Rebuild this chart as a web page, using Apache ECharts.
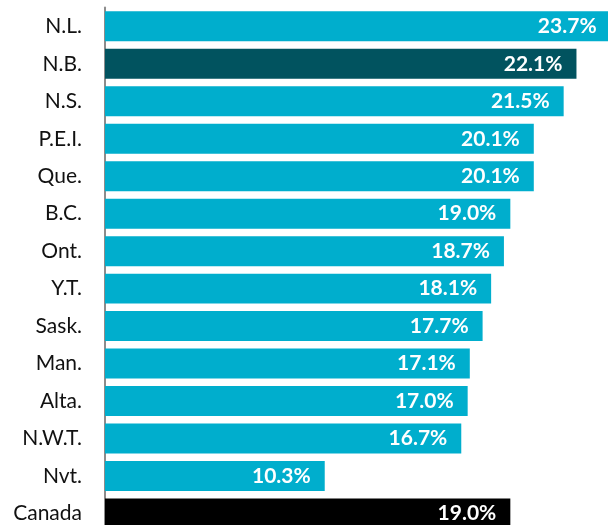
<!DOCTYPE html>
<html>
<head>
<meta charset="utf-8">
<script src="https://cdn.jsdelivr.net/npm/echarts@6/dist/echarts.min.js"></script>
<style>
  html, body { margin: 0; padding: 0; background: #ffffff; }
  #chart { width: 608px; height: 525px; }
</style>
</head>
<body>
<div id="chart"></div>
<script>
// 省份/地区，从上到下
var regions = ['N.L.', 'N.B.', 'N.S.', 'P.E.I.', 'Que.', 'B.C.', 'Ont.', 'Y.T.', 'Sask.', 'Man.', 'Alta.', 'N.W.T.', 'Nvt.', 'Canada']
var shares = [23.7, 22.1, 21.5, 20.1, 20.1, 19.0, 18.7, 18.1, 17.7, 17.1, 17.0, 16.7, 10.3, 19.0]

var teal = '#00aecd'
var barColors = {
  'N.B.': '#01535f',
  'Canada': '#000000'
}

var myChart = echarts.init(document.getElementById('chart'))
var option = {
  animation: false,
  grid: {
    top: 7.6,
    bottom: -7.2,
    left: 105,
    right: -9,
    // 允许网格超出画布（底部和右侧被裁切）
    outerBoundsMode: 'none'
  },
  xAxis: {
    type: 'value',
    min: 0,
    max: 24,
    show: false
  },
  yAxis: {
    type: 'category',
    inverse: true,
    data: regions,
    axisLine: {
      lineStyle: { color: '#8c8c8c', width: 2 }
    },
    axisTick: { show: false },
    axisLabel: {
      margin: 23,
      color: '#111111',
      fontFamily: 'Lato',
      fontSize: 21
    }
  },
  series: [
    {
      type: 'bar',
      barCategoryGap: '20%',
      data: shares.map(function(v, i) {
        return {
          value: v,
          itemStyle: { color: barColors[regions[i]] || teal }
        }
      }),
      label: {
        show: true,
        position: 'insideRight',
        distance: 14,
        color: '#ffffff',
        fontFamily: 'Lato',
        fontWeight: 'bold',
        fontSize: 21,
        formatter: function(p) {
          return p.value.toFixed(1) + '%'
        }
      }
    }
  ]
}
myChart.setOption(option)
</script>
</body>
</html>
